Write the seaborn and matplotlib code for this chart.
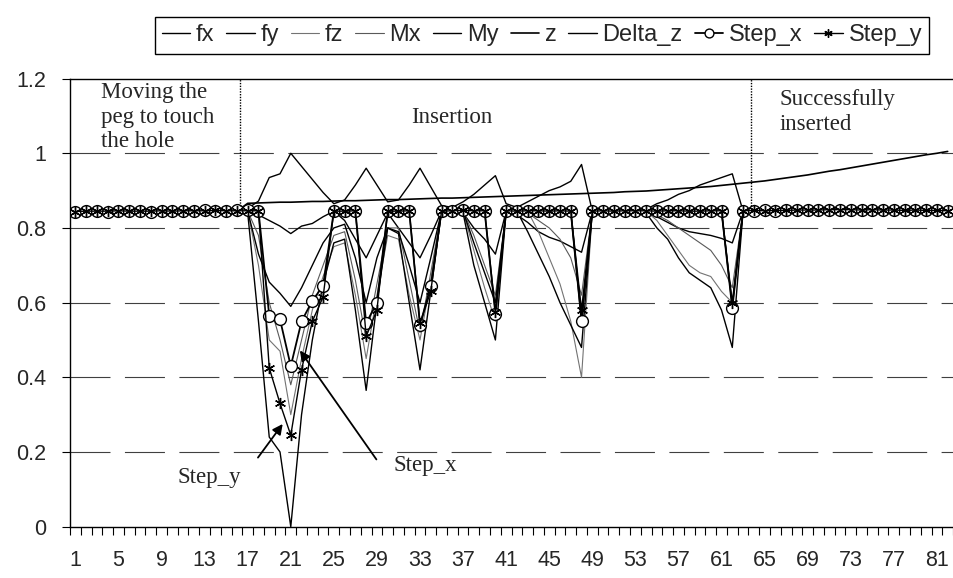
import seaborn as sns
import matplotlib.pyplot as plt
from matplotlib.ticker import FixedLocator

sns.set_style("white")
plt.rcParams['font.family'] = ['Liberation Sans', 'DejaVu Sans']

x = list(range(1, 83))

fx = [0.845, 0.845, 0.846, 0.845, 0.844, 0.845, 0.846, 0.845, 0.845, 0.846,
      0.845, 0.846, 0.847, 0.846, 0.848, 0.848, 0.852, 0.872, 0.935, 0.945,
      1.0, 0.965, 0.93, 0.895, 0.865, 0.875, 0.915, 0.96, 0.915, 0.87,
      0.875, 0.915, 0.96, 0.91, 0.86, 0.855, 0.87, 0.89, 0.915, 0.94,
      0.865, 0.855, 0.87, 0.885, 0.9, 0.91, 0.925, 0.97, 0.845, 0.845,
      0.846, 0.845, 0.845, 0.85, 0.865, 0.875, 0.89, 0.9, 0.915, 0.925,
      0.935, 0.945, 0.845, 0.845, 0.846, 0.845, 0.846, 0.847, 0.846, 0.847,
      0.848, 0.847, 0.849, 0.848, 0.847, 0.846, 0.847, 0.846, 0.846, 0.845,
      0.846, 0.845]

fy = [0.845, 0.845, 0.844, 0.845, 0.845, 0.844, 0.845, 0.845, 0.844, 0.845,
      0.845, 0.845, 0.846, 0.845, 0.846, 0.846, 0.845, 0.835, 0.82, 0.805,
      0.785, 0.805, 0.812, 0.83, 0.845, 0.82, 0.77, 0.72, 0.78, 0.84,
      0.8, 0.76, 0.72, 0.78, 0.845, 0.845, 0.84, 0.8, 0.77, 0.73,
      0.845, 0.835, 0.815, 0.79, 0.775, 0.765, 0.75, 0.735, 0.845, 0.845,
      0.845, 0.845, 0.845, 0.842, 0.83, 0.815, 0.8, 0.79, 0.785, 0.78,
      0.772, 0.76, 0.845, 0.845, 0.845, 0.846, 0.845, 0.845, 0.846, 0.845,
      0.845, 0.846, 0.845, 0.845, 0.846, 0.845, 0.845, 0.845, 0.846, 0.845,
      0.845, 0.845]

fz = [0.845, 0.844, 0.845, 0.845, 0.846, 0.845, 0.844, 0.845, 0.845, 0.845,
      0.846, 0.845, 0.845, 0.844, 0.845, 0.845, 0.845, 0.7, 0.5, 0.47,
      0.3, 0.45, 0.58, 0.67, 0.75, 0.76, 0.62, 0.45, 0.62, 0.78,
      0.77, 0.62, 0.5, 0.66, 0.845, 0.845, 0.845, 0.74, 0.64, 0.55,
      0.845, 0.845, 0.845, 0.79, 0.72, 0.65, 0.55, 0.4, 0.845, 0.845,
      0.845, 0.845, 0.845, 0.845, 0.82, 0.78, 0.74, 0.7, 0.68, 0.67,
      0.63, 0.6, 0.845, 0.845, 0.844, 0.845, 0.845, 0.845, 0.844, 0.845,
      0.845, 0.845, 0.845, 0.844, 0.845, 0.845, 0.845, 0.845, 0.845, 0.844,
      0.845, 0.845]

Mx = [0.845, 0.845, 0.845, 0.844, 0.845, 0.845, 0.845, 0.846, 0.845, 0.845,
      0.845, 0.844, 0.845, 0.845, 0.845, 0.846, 0.845, 0.78, 0.6, 0.5,
      0.38, 0.5, 0.62, 0.7, 0.78, 0.79, 0.66, 0.5, 0.65, 0.8,
      0.8, 0.66, 0.52, 0.68, 0.845, 0.845, 0.845, 0.78, 0.7, 0.62,
      0.845, 0.845, 0.84, 0.82, 0.8, 0.77, 0.72, 0.62, 0.845, 0.845,
      0.845, 0.845, 0.845, 0.845, 0.835, 0.82, 0.8, 0.78, 0.76, 0.74,
      0.7, 0.64, 0.845, 0.845, 0.845, 0.845, 0.845, 0.844, 0.845, 0.845,
      0.845, 0.845, 0.846, 0.845, 0.845, 0.845, 0.845, 0.845, 0.845, 0.845,
      0.845, 0.845]

My = [0.845, 0.845, 0.845, 0.845, 0.845, 0.846, 0.845, 0.845, 0.845, 0.845,
      0.844, 0.845, 0.845, 0.845, 0.845, 0.845, 0.845, 0.73, 0.655, 0.625,
      0.59, 0.64, 0.7, 0.76, 0.8, 0.81, 0.72, 0.6, 0.72, 0.8,
      0.79, 0.7, 0.6, 0.72, 0.845, 0.845, 0.845, 0.76, 0.68, 0.6,
      0.845, 0.845, 0.79, 0.73, 0.67, 0.6, 0.54, 0.48, 0.845, 0.845,
      0.845, 0.845, 0.845, 0.84, 0.8, 0.77, 0.72, 0.68, 0.66, 0.64,
      0.58, 0.48, 0.845, 0.845, 0.845, 0.845, 0.845, 0.845, 0.845, 0.845,
      0.845, 0.845, 0.845, 0.845, 0.845, 0.845, 0.845, 0.845, 0.845, 0.845,
      0.845, 0.845]

z = [0.845, 0.845, 0.845, 0.845, 0.845, 0.845, 0.845, 0.845, 0.845, 0.845,
     0.845, 0.845, 0.845, 0.845, 0.845, 0.845, 0.866, 0.867, 0.868, 0.869,
     0.869, 0.87, 0.871, 0.871, 0.872, 0.873, 0.873, 0.874, 0.875, 0.876,
     0.876, 0.877, 0.878, 0.879, 0.88, 0.88, 0.881, 0.882, 0.883, 0.884,
     0.885, 0.886, 0.887, 0.888, 0.889, 0.89, 0.891, 0.892, 0.893, 0.894,
     0.895, 0.897, 0.898, 0.899, 0.901, 0.903, 0.905, 0.907, 0.909, 0.911,
     0.914, 0.917, 0.92, 0.923, 0.926, 0.93, 0.934, 0.938, 0.942, 0.947,
     0.952, 0.956, 0.961, 0.966, 0.971, 0.976, 0.981, 0.986, 0.991, 0.996,
     1.0, 1.005]

Delta_z = [0.845, 0.845, 0.845, 0.845, 0.845, 0.845, 0.845, 0.845, 0.845, 0.845,
           0.845, 0.845, 0.845, 0.845, 0.845, 0.845, 0.84, 0.55, 0.24, 0.2,
           0.0, 0.3, 0.5, 0.65, 0.76, 0.77, 0.58, 0.365, 0.6, 0.8,
           0.785, 0.6, 0.42, 0.63, 0.845, 0.845, 0.84, 0.7, 0.6, 0.5,
           0.845, 0.845, 0.845, 0.845, 0.845, 0.845, 0.845, 0.55, 0.845, 0.845,
           0.845, 0.845, 0.845, 0.845, 0.845, 0.845, 0.845, 0.845, 0.845, 0.845,
           0.845, 0.59, 0.845, 0.845, 0.845, 0.845, 0.845, 0.845, 0.845, 0.845,
           0.845, 0.845, 0.845, 0.845, 0.845, 0.845, 0.845, 0.845, 0.845, 0.845,
           0.845, 0.845]

Step_x = [0.843, 0.845, 0.846, 0.844, 0.845, 0.846, 0.845, 0.844, 0.845, 0.846,
          0.845, 0.846, 0.847, 0.846, 0.846, 0.847, 0.847, 0.846, 0.565, 0.555,
          0.43, 0.55, 0.605, 0.645, 0.845, 0.845, 0.845, 0.545, 0.6, 0.845,
          0.845, 0.845, 0.54, 0.645, 0.845, 0.846, 0.848, 0.846, 0.845, 0.57,
          0.845, 0.845, 0.846, 0.845, 0.845, 0.845, 0.845, 0.55, 0.845, 0.845,
          0.846, 0.845, 0.846, 0.845, 0.846, 0.846, 0.845, 0.845, 0.846, 0.845,
          0.845, 0.585, 0.846, 0.846, 0.847, 0.846, 0.847, 0.848, 0.847, 0.848,
          0.848, 0.849, 0.848, 0.849, 0.848, 0.848, 0.847, 0.848, 0.847, 0.847,
          0.847, 0.846]

Step_y = [0.844, 0.845, 0.845, 0.845, 0.846, 0.845, 0.845, 0.845, 0.846, 0.845,
          0.846, 0.846, 0.846, 0.847, 0.846, 0.846, 0.846, 0.846, 0.425, 0.33,
          0.245, 0.42, 0.55, 0.615, 0.845, 0.845, 0.846, 0.51, 0.58, 0.845,
          0.845, 0.846, 0.545, 0.63, 0.845, 0.846, 0.847, 0.846, 0.846, 0.575,
          0.846, 0.845, 0.846, 0.846, 0.845, 0.846, 0.845, 0.58, 0.845, 0.846,
          0.845, 0.846, 0.846, 0.846, 0.845, 0.846, 0.846, 0.845, 0.845, 0.846,
          0.846, 0.6, 0.846, 0.847, 0.846, 0.847, 0.847, 0.848, 0.848, 0.848,
          0.849, 0.849, 0.849, 0.848, 0.849, 0.848, 0.848, 0.847, 0.848, 0.847,
          0.847, 0.846]

y_ticks = [0, 0.2, 0.4, 0.6, 0.8, 1.0, 1.2]
y_labels = ["0", "0.2", "0.4", "0.6", "0.8", "1", "1.2"]
x_ticks = list(range(1, 83, 4))

fig = plt.figure(figsize=(9.54, 5.78), dpi=100)
ax = fig.add_axes([0.0734, 0.0888, 0.9256, 0.7752])

# dashed gridlines
for v in [0.2, 0.4, 0.6, 0.8, 1.0]:
    ax.axhline(v, color='0.25', lw=0.8, ls=(0, (36, 13)), zorder=0)

series = [
    ("fx", fx, dict(color='black', lw=1.0)),
    ("fy", fy, dict(color='black', lw=1.0)),
    ("fz", fz, dict(color='0.45', lw=0.8)),
    ("Mx", Mx, dict(color='0.35', lw=0.8)),
    ("My", My, dict(color='black', lw=1.0)),
    ("z", z, dict(color='black', lw=1.2)),
    ("Delta_z", Delta_z, dict(color='black', lw=1.0)),
    ("Step_x", Step_x, dict(color='black', lw=1.3, marker='o', markersize=8.5,
                            markerfacecolor='white', markeredgecolor='black',
                            markeredgewidth=1.0)),
    ("Step_y", Step_y, dict(color='black', lw=1.0, marker=(6, 2, 0), markersize=8,
                            markeredgecolor='black', markeredgewidth=1.0)),
]

handles = []
for name, vals, kw in series:
    sns.lineplot(x=x, y=vals, ax=ax, **kw)
    handles.append(ax.lines[-1])

ax.set_xlim(0.5, 82.5)
ax.set_ylim(0, 1.2)
ax.set_xticks(x_ticks)
ax.set_xticklabels([str(t) for t in x_ticks])
ax.xaxis.set_minor_locator(FixedLocator([i + 0.5 for i in range(0, 83)]))
ax.tick_params(axis='x', which='major', length=0, pad=17, labelsize=15.5)
ax.tick_params(axis='x', which='minor', length=6, width=0.8, direction='out', color='black', bottom=True)
ax.set_yticks(y_ticks)
ax.set_yticklabels(y_labels)
ax.tick_params(axis='y', length=6, width=0.8, direction='out', pad=11, labelsize=15.5, color='black', left=True)
ax.set_xlabel("")
ax.set_ylabel("")

for side in ['top', 'left', 'bottom']:
    ax.spines[side].set_color('black')
    ax.spines[side].set_linewidth(1.0)
ax.spines['right'].set_visible(False)

# phase separators
ax.axvline(16.3, ymin=0.86 / 1.2, ymax=1, color='black', lw=1.0, ls=(0, (1, 1)))
ax.axvline(63.7, ymin=0.86 / 1.2, ymax=1, color='black', lw=1.0, ls=(0, (1, 1)))

serif = ['Liberation Serif', 'DejaVu Serif']
ax.text(3.4, 1.19, "Moving the\npeg to touch\nthe hole", family=serif, fontsize=16.5,
        va='top', ha='left', linespacing=1.22)
ax.text(32.2, 1.125, "Insertion", family=serif, fontsize=16.5, va='top', ha='left')
ax.text(66.4, 1.172, "Successfully\ninserted", family=serif, fontsize=16.5,
        va='top', ha='left', linespacing=1.22)
ax.text(10.5, 0.133, "Step_y", family=serif, fontsize=16.5, va='center', ha='left')
ax.text(30.5, 0.165, "Step_x", family=serif, fontsize=16.5, va='center', ha='left')
ax.annotate("", xy=(20.4, 0.281), xytext=(17.8, 0.179),
            arrowprops=dict(arrowstyle='-|>', color='black', lw=1.3, mutation_scale=15))
ax.annotate("", xy=(21.7, 0.478), xytext=(29.1, 0.174),
            arrowprops=dict(arrowstyle='-|>', color='black', lw=1.3, mutation_scale=15))

leg = fig.legend(handles, [s[0] for s in series], ncol=9, loc='upper center',
                 bbox_to_anchor=(0.568, 0.97), fontsize=17, frameon=True,
                 fancybox=False, edgecolor='black', framealpha=1,
                 handlelength=1.2, handletextpad=0.25, columnspacing=0.5,
                 borderpad=0.3, borderaxespad=0, markerscale=0.75)
leg.get_frame().set_linewidth(1.0)

fig.savefig("out.png", dpi=100)
